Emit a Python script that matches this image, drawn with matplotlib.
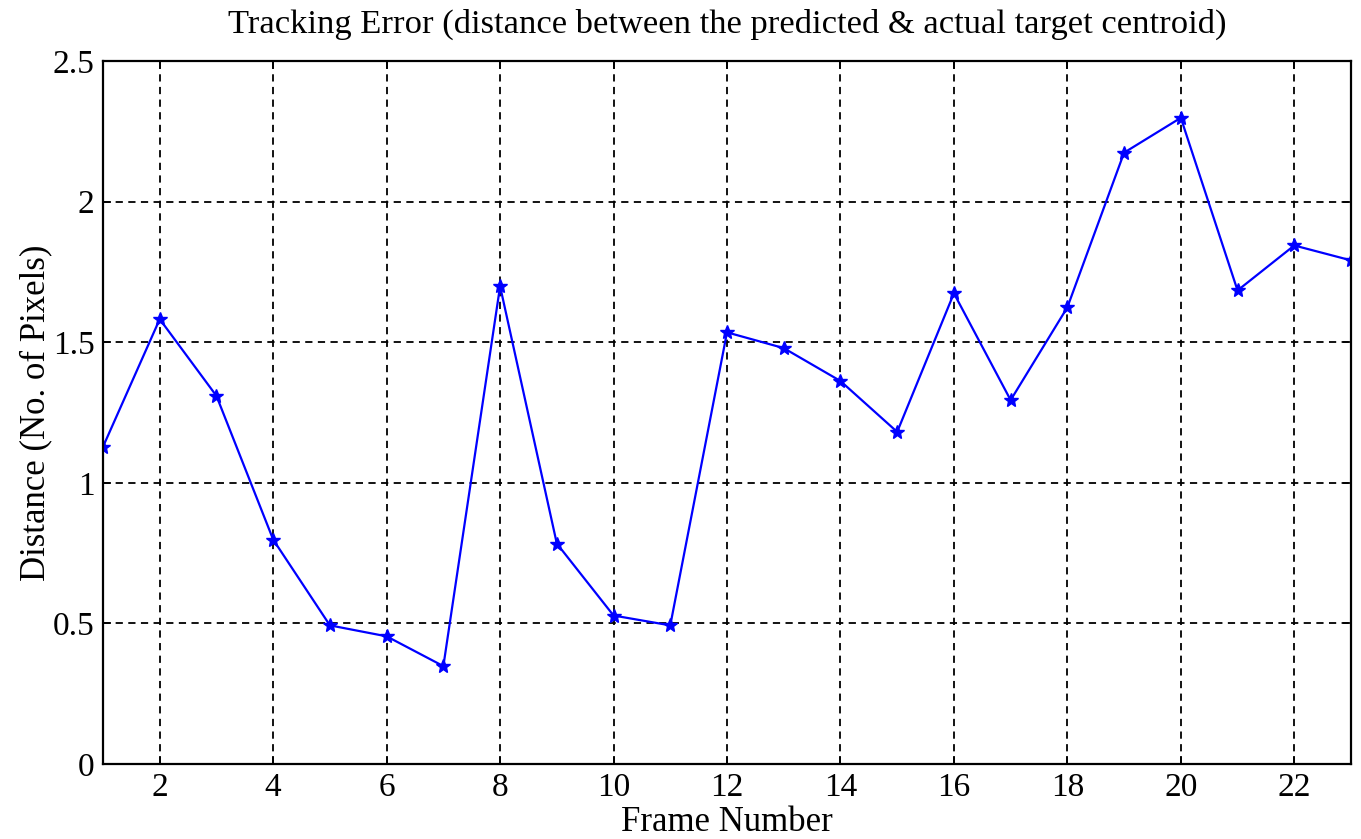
import matplotlib
matplotlib.use("Agg")
import matplotlib.pyplot as plt

frames = list(range(1, 24))
distance = [1.128, 1.582, 1.309, 0.798, 0.493, 0.454, 0.348, 1.699, 0.784, 0.528,
            0.493, 1.535, 1.479, 1.362, 1.181, 1.674, 1.294, 1.624, 2.174, 2.298,
            1.684, 1.844, 1.791]
xticks = list(range(2, 23, 2))
yticks = [0, 0.5, 1, 1.5, 2, 2.5]
yticklabels = ["0", "0.5", "1", "1.5", "2", "2.5"]

plt.rcParams['font.family'] = ['Liberation Serif', 'DejaVu Serif']
plt.rcParams['font.size'] = 24

fig = plt.figure(figsize=(13.61, 8.39), dpi=100)
ax = fig.add_axes([103/1361, 1 - 764/839, (1351-103)/1361, (764-61)/839])
ax.plot(frames, distance, color='#0000ff', linewidth=1.6, marker='*', markersize=10)
ax.set_xlim(1, 23)
ax.set_ylim(0, 2.5)
ax.set_xticks(xticks)
ax.set_yticks(yticks)
ax.set_yticklabels(yticklabels)
ax.grid(True, color='black', linestyle=(0, (4, 3)), linewidth=1.3)
for s in ax.spines.values():
    s.set_linewidth(1.6)
ax.tick_params(direction='in', length=6, width=1.2, top=True, right=True, pad=6, labelsize=24)
ax.set_title('Tracking Error (distance between the predicted & actual target centroid)', fontsize=24.8, pad=20)
ax.set_xlabel('Frame Number', fontsize=25, labelpad=2)
ax.set_ylabel('Distance (No. of Pixels)', fontsize=25, labelpad=0)
fig.savefig('out.png', dpi=100)
